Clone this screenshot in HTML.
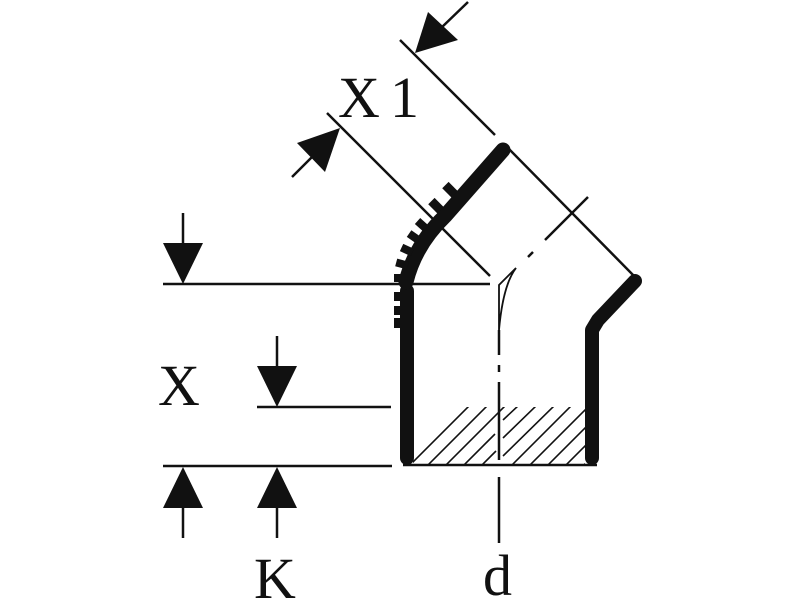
<!DOCTYPE html>
<html><head><meta charset="utf-8"><style>
html,body{margin:0;padding:0;background:#fff;}
svg{display:block}
text{font-family:"Liberation Serif","DejaVu Serif",serif;fill:#111}
</style></head><body>
<svg width="800" height="600" viewBox="0 0 800 600" xmlns="http://www.w3.org/2000/svg">
<defs>
<clipPath id="hc"><rect x="413" y="407" width="172" height="58"/></clipPath>
</defs>
<g stroke="#111" fill="none">
<line x1="163" y1="284" x2="490" y2="284" stroke-width="2.5"/>
<line x1="257" y1="407" x2="391" y2="407" stroke-width="2.5"/>
<line x1="163" y1="466" x2="392" y2="466" stroke-width="2.5"/>
<line x1="183" y1="213" x2="183" y2="250" stroke-width="2.5"/>
<line x1="277" y1="336" x2="277" y2="372" stroke-width="2.5"/>
<line x1="183" y1="500" x2="183" y2="538" stroke-width="2.5"/>
<line x1="277" y1="500" x2="277" y2="538" stroke-width="2.5"/>
<line x1="400" y1="40" x2="495" y2="135" stroke-width="2.5"/>
<line x1="327" y1="113" x2="490" y2="276" stroke-width="2.5"/>
<line x1="468" y1="2" x2="440" y2="29" stroke-width="2.5"/>
<line x1="292" y1="177" x2="318" y2="151" stroke-width="2.5"/>
<line x1="507" y1="147" x2="637" y2="279" stroke-width="2.5"/>
<line x1="403" y1="465" x2="597" y2="465" stroke-width="2.5"/>
<path d="M407,458 L407,291" stroke-width="14" stroke-linecap="round"/>
<path d="M406,282 Q415,245 445,216 L503,150" stroke-width="15" stroke-linecap="round" stroke-linejoin="round"/>
<path d="M635,281 L598,320 L592,330 L592,458" stroke-width="14" stroke-linecap="round" stroke-linejoin="round"/>
<line x1="499" y1="330" x2="499" y2="355" stroke-width="2.5"/>
<line x1="499" y1="365" x2="499" y2="372" stroke-width="2.5"/>
<line x1="499" y1="382" x2="499" y2="460" stroke-width="2.5"/>
<line x1="499" y1="477" x2="499" y2="543" stroke-width="2.5"/>
<line x1="545" y1="240" x2="588" y2="197" stroke-width="2.5"/>
<line x1="528" y1="257" x2="533" y2="252" stroke-width="2.5"/>
<path d="M499,330 L499,285 L516,268 Q503,285 499,330" stroke-width="1.8"/>
<g clip-path="url(#hc)" stroke-width="1.6">
<line x1="395" y1="480" x2="470" y2="405"/>
<line x1="413" y1="480" x2="488" y2="405"/>
<line x1="431" y1="480" x2="506" y2="405"/>
<line x1="449" y1="480" x2="495" y2="434"/>
<line x1="467" y1="480" x2="496" y2="451"/>
<line x1="502" y1="475" x2="572" y2="405"/>
<line x1="520" y1="475" x2="590" y2="405"/>
<line x1="538" y1="475" x2="608" y2="405"/>
<line x1="556" y1="475" x2="626" y2="405"/>
<line x1="574" y1="475" x2="644" y2="405"/>
<line x1="503" y1="438" x2="537" y2="405"/>
<line x1="503" y1="420" x2="519" y2="405"/>
<line x1="503" y1="456" x2="555" y2="405"/>
</g>
</g>
<g fill="#111">
<rect x="394" y="292" width="10" height="9"/>
<rect x="394" y="306" width="10" height="9"/>
<rect x="394" y="318" width="10" height="10"/>
<rect x="394" y="274" width="12" height="8"/>
<rect x="396" y="260" width="12" height="8" transform="rotate(15 402 264)"/>
<rect x="401" y="246" width="12" height="8" transform="rotate(25 407 250)"/>
<rect x="408" y="233" width="12" height="8" transform="rotate(35 414 237)"/>
<rect x="416" y="221" width="12" height="8" transform="rotate(42 422 225)"/>
<rect x="430" y="201" width="13" height="9" transform="rotate(45 436 205)"/>
<rect x="444" y="185" width="13" height="9" transform="rotate(45 450 189)"/>
<polygon points="163,243 203,243 183,284"/>
<polygon points="257,366 297,366 277,407"/>
<polygon points="163,508 203,508 183,467"/>
<polygon points="257,508 297,508 277,467"/>
<polygon points="415,53 428,12 458,40"/>
<polygon points="340,128 297,143 325,172"/>
</g>
<text x="338" y="117" font-size="58">X</text>
<text x="390" y="117" font-size="58">1</text>
<text x="158" y="405" font-size="58">X</text>
<text x="254" y="598" font-size="58">K</text>
<text x="483" y="595" font-size="58">d</text>
</svg>
</body></html>
